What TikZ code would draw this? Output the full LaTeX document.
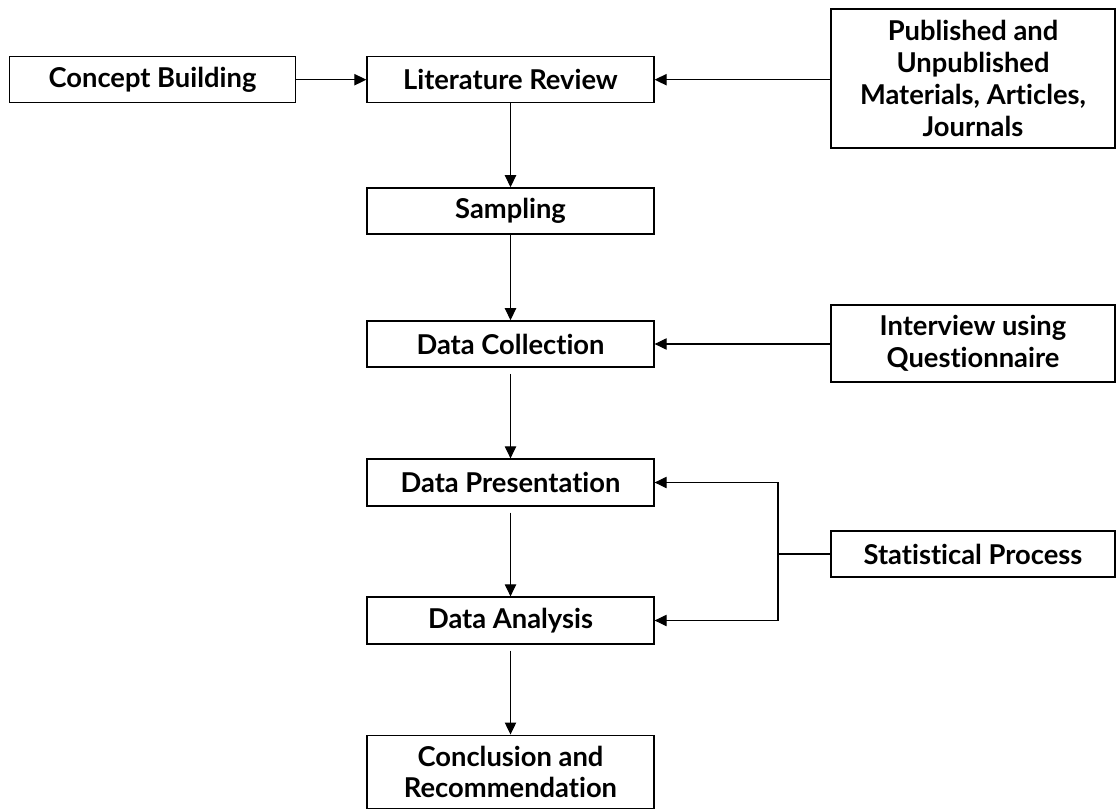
\documentclass[tikz,border=0pt]{standalone}
\usepackage{fontspec}
\setmainfont{Lato}[Ligatures=NoCommon]
\usetikzlibrary{arrows.meta}

\begin{document}
\begin{tikzpicture}[x=0.75pt, y=-0.75pt,
        box/.style={draw=black, line width=1.2pt, fill=white, inner sep=0pt,
            minimum width=215pt, minimum height=34.5pt, align=center,
            font=\fontsize{20.5}{23.8}\selectfont\bfseries},
        link/.style={black, line width=0.8pt},
        flow/.style={link, -{Triangle[length=9pt, width=8.5pt]}}]
        \useasboundingbox (0,0) rectangle (1116,809);
        \node[box, minimum width=214.5pt] (concept) at (152.5,79.7) {Concept Building};
        \node[box] (litrev) at (510.5,79.7) {Literature Review};
        \node[box, minimum width=213pt, minimum height=104pt] (sources) at (973,78.5) {Published and\\Unpublished\\Materials, Articles,\\Journals};
        \node[box] (sampling) at (510.5,211) {Sampling};
        \node[box] (collect) at (510.5,344) {Data Collection};
        \node[box, minimum width=213pt, minimum height=57.5pt] (interview) at (973,343.5) {Interview using\\Questionnaire};
        \node[box, minimum height=35pt] (present) at (510.5,482.5) {Data Presentation};
        \node[box, minimum width=213pt] (stats) at (973,554) {Statistical Process};
        \node[box, minimum height=35pt] (analysis) at (510.5,620.5) {Data Analysis};
        \node[box, minimum height=55pt] (conclude) at (510.5,772) {Conclusion and\\Recommendation};
        \coordinate (joint) at (778,554);
        \draw[flow] (concept.east) -- (litrev.west);
        \draw[flow] (sources.west |- litrev.east) -- (litrev.east);
        \draw[flow] (litrev.south) -- (sampling.north);
        \draw[flow] (sampling.south) -- (collect.north);
        \draw[flow] (interview.west |- collect.east) -- (collect.east);
        \draw[flow, shorten <=4.5pt] (collect.south) -- (present.north);
        \draw[link] (stats.west) -- (joint);
        \draw[flow] (joint) |- (present.east);
        \draw[flow] (joint) |- (analysis.east);
        \draw[flow, shorten <=4.5pt] (present.south) -- (analysis.north);
        \draw[flow, shorten <=4.5pt] (analysis.south) -- (conclude.north);
    \end{tikzpicture}
\end{document}
